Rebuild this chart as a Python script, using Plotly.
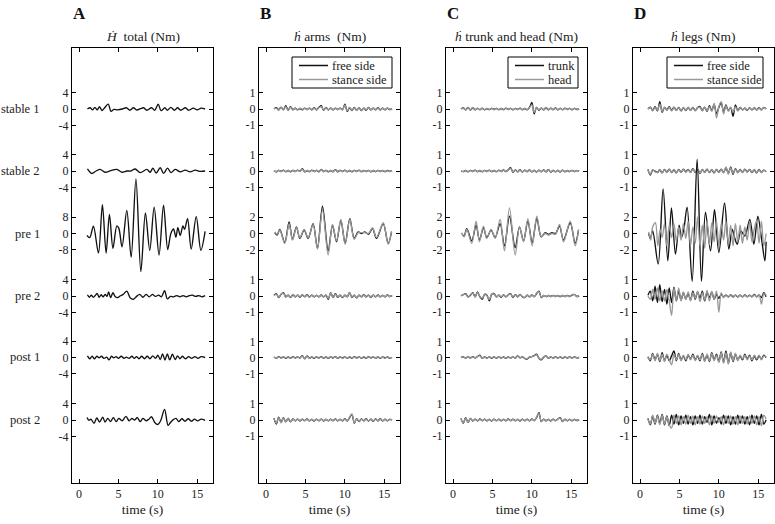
import plotly.graph_objects as go

W, H = 775, 524
ROW_NAMES = ["stable 1", "stable 2", "pre 1", "pre 2", "post 1", "post 2"]
PANEL_LETTERS = ["A", "B", "C", "D"]
PANEL_TITLES = ["<i>Ḣ</i>  total (Nm)", "<i>ḣ</i> arms  (Nm)", "<i>ḣ</i> trunk and head (Nm)", "<i>ḣ</i> legs (Nm)"]
LEGEND_NAMES = [None, ("free side", "stance side"), ("trunk", "head"), ("free side", "stance side")]
X_TICKS = [0, 5, 10, 15]
Y_TICKS_A = [[4, 0, -4], [4, 0, -4], [8, 0, -8], [4, 0, -4], [4, 0, -4], [4, 0, -4]]
Y_TICKS_BCD = [[1, 0, -1], [1, 0, -1], [2, 0, -2], [1, 0, -1], [1, 0, -1], [1, 0, -1]]

# ---------- Panel A : H total (Nm) ----------
A_stable1_t = [1.06, 1.4, 1.7, 2.0, 2.3, 2.6, 2.9, 3.2, 3.7, 4.05, 4.4, 4.9, 5.5, 6.0, 6.45, 6.9, 7.35, 7.8, 8.2, 8.6, 9.2, 9.6, 10.05, 10.4, 10.9, 11.2, 11.65, 12.1, 12.5, 12.9, 13.5, 13.9, 14.5, 15.0, 15.5, 16.0]
A_stable1_v = [0.0, 0.3, -0.2, 0.4, -0.2, 0.6, -0.4, 0.2, 1.2, -0.6, -0.1, -0.2, 0.0, 0.3, -0.3, 0.3, -0.25, 0.1, 0.3, -0.3, 0.3, -0.3, 1.2, -0.4, 0.3, -0.3, 0.4, -0.3, 0.3, -0.3, 0.3, -0.3, 0.2, -0.2, 0.2, 0.0]
A_stable2_t = [1.06, 1.61, 2.16, 2.67, 3.31, 4.03, 4.79, 5.43, 6.06, 6.57, 7.12, 7.76, 8.6, 9.03, 9.37, 9.79, 10.3, 10.72, 11.23, 11.66, 12.2, 12.84, 13.48, 14.1, 14.75, 15.38, 16.0]
A_stable2_v = [0.5, -0.6, 0.0, 0.4, -0.3, 0.1, 0.4, -0.3, 0.0, 0.0, 0.5, -0.4, 0.4, -0.3, 0.7, -0.5, 0.8, -0.6, 0.7, -0.4, 0.4, -0.2, 0.2, -0.2, 0.2, -0.1, 0.0]
A_pre1_t = [1.0, 1.35, 1.82, 2.46, 2.96, 3.43, 3.85, 4.3, 4.79, 5.05, 5.45, 6.06, 6.61, 7.22, 7.84, 8.42, 8.97, 9.53, 10.15, 10.72, 11.25, 11.65, 11.99, 12.29, 12.54, 12.84, 13.18, 13.39, 13.77, 14.23, 14.87, 15.46, 16.0]
A_pre1_v = [-1.0, -2.0, 3.5, -9.5, 14.0, -9.5, 9.3, -7.2, 3.7, 2.5, -6.5, 11.2, -11.5, 26.5, -18.5, 10.0, -8.2, 12.8, -10.5, 13.8, -7.8, 0.0, 2.2, -1.8, 2.8, -1.0, 3.7, 2.0, 7.2, -7.6, 8.2, -8.2, 1.0]
A_pre2_t = [1.06, 1.3, 1.55, 1.8, 2.05, 2.3, 2.55, 2.8, 3.05, 3.3, 3.55, 3.75, 4.0, 4.3, 4.6, 4.9, 5.2, 5.6, 6.06, 6.5, 6.9, 7.3, 7.7, 8.1, 8.5, 8.9, 9.3, 9.7, 10.1, 10.45, 10.85, 11.2, 11.6, 12.0, 12.4, 12.8, 13.2, 13.6, 14.0, 14.4, 14.8, 15.2, 15.6, 16.0]
A_pre2_v = [0.3, -0.3, 0.2, -0.3, 0.1, 0.6, -0.3, 0.3, -0.2, 0.4, -0.1, 1.0, -0.4, 0.8, -0.2, -0.4, 0.0, 0.4, 1.2, -0.5, -0.8, -0.1, 0.4, -0.3, 0.4, -0.2, 0.4, -0.1, 0.2, -0.2, 1.3, -0.7, -0.1, -0.2, 0.1, -0.2, 0.1, -0.2, 0.1, 0.2, -0.1, 0.1, -0.2, 0.1]
A_post1_t = [1.06, 1.35, 1.65, 1.95, 2.25, 2.55, 2.85, 3.15, 3.5, 3.8, 4.1, 4.4, 4.7, 5.0, 5.35, 5.7, 6.0, 6.35, 6.7, 7.0, 7.3, 7.6, 7.95, 8.3, 8.65, 9.0, 9.35, 9.7, 10.0, 10.3, 10.6, 10.9, 11.2, 11.5, 11.85, 12.2, 12.5, 12.8, 13.1, 13.5, 13.9, 14.3, 14.7, 15.1, 15.5, 16.0]
A_post1_v = [0.4, -0.3, 0.3, -0.3, 0.3, -0.1, 0.3, -0.2, 0.1, -0.6, 0.3, -0.1, 0.2, -0.2, 0.3, -0.2, 0.1, -0.2, 0.3, -0.2, 0.2, -0.3, 0.3, -0.3, 0.3, -0.3, 0.4, -0.2, 0.6, -0.5, 0.9, -0.6, 0.9, -0.6, 0.8, -0.5, 0.4, -0.3, 0.3, -0.3, 0.2, -0.2, 0.2, -0.2, 0.2, 0.0]
A_post2_t = [1.0, 1.25, 1.5, 1.9, 2.25, 2.6, 3.0, 3.3, 3.65, 4.0, 4.35, 4.7, 5.05, 5.45, 5.95, 6.35, 6.7, 7.05, 7.4, 7.75, 8.1, 8.5, 8.85, 9.2, 9.6, 10.0, 10.35, 10.85, 11.3, 11.6, 11.9, 12.3, 12.65, 13.05, 13.45, 13.85, 14.25, 14.65, 15.05, 15.5, 16.0]
A_post2_v = [0.6, -0.1, 0.2, -0.8, 0.5, -0.5, 0.7, -0.5, 0.4, -0.4, 0.6, -0.4, 0.4, -0.2, 0.9, -0.2, 0.4, 0.0, 0.6, -0.4, 0.4, -0.2, 0.2, 0.8, -0.6, -1.1, -0.2, 2.6, -1.3, -0.6, 0.0, 0.4, -0.4, 0.3, -0.3, 0.3, -0.3, 0.2, -0.2, 0.2, -0.1]

# ---------- common time grid for the small signals of panels B-D ----------
T_GRID = [1.0, 1.3, 1.6, 1.9, 2.2, 2.5, 2.8, 3.1, 3.4, 3.7, 4.0, 4.3, 4.6, 4.9, 5.2, 5.5, 5.8, 6.1, 6.4, 6.7,
          7.0, 7.3, 7.6, 7.9, 8.2, 8.5, 8.8, 9.1, 9.4, 9.7, 10.0, 10.3, 10.6, 10.9, 11.2, 11.5, 11.8, 12.1, 12.4, 12.7,
          13.0, 13.3, 13.6, 13.9, 14.2, 14.5, 14.8, 15.1, 15.4, 15.7, 16.0]
PRE1_T = [1.1, 1.4, 1.74, 2.37, 2.92, 3.35, 3.85, 4.28, 4.83, 5.34, 5.97, 6.52, 7.16, 7.88, 8.43, 8.94, 9.49, 10.04, 10.63, 11.18, 11.69, 12.1, 12.54, 13.0, 13.51, 14.02, 14.87, 15.5, 15.93]

# ---------- Panel B : h arms ----------
B_stable1_free = [0.00, 0.08, -0.05, 0.12, -0.05, 0.20, -0.08, 0.15, -0.05, 0.05,
                  -0.05, 0.03, -0.05, 0.05, -0.03, 0.05, -0.05, 0.08, -0.05, 0.10,
                  0.20, -0.08, 0.10, -0.05, 0.05, -0.05, 0.05, -0.03, 0.05, -0.05,
                  0.30, -0.15, 0.08, -0.10, 0.10, -0.08, 0.08, -0.10, 0.05, -0.08,
                  0.10, -0.05, 0.05, -0.05, 0.08, -0.05, 0.05, -0.05, 0.05, -0.03, 0.00]
B_stable1_stance = [0.02, 0.05, -0.08, 0.10, -0.03, 0.15, -0.10, 0.12, -0.03, 0.03,
                    -0.06, 0.05, -0.03, 0.04, -0.05, 0.06, -0.03, 0.06, -0.06, 0.08,
                    0.15, -0.06, 0.08, -0.06, 0.06, -0.04, 0.04, -0.05, 0.06, -0.03,
                    0.25, -0.12, 0.10, -0.08, 0.08, -0.10, 0.10, -0.08, 0.06, -0.06,
                    0.08, -0.06, 0.06, -0.04, 0.06, -0.06, 0.04, -0.04, 0.06, -0.02, 0.00]
B_stable2_free = [0.02, -0.05, 0.04, -0.03, 0.05, -0.04, 0.03, -0.05, 0.04, -0.03,
                  0.05, -0.02, 0.15, -0.05, 0.03, -0.04, 0.05, -0.03, 0.04, -0.05,
                  0.10, -0.03, 0.04, -0.05, 0.03, -0.04, 0.08, -0.05, 0.04, -0.03,
                  0.05, -0.04, 0.03, -0.05, 0.04, -0.03, 0.05, -0.04, 0.03, -0.03,
                  0.04, -0.05, 0.03, -0.04, 0.04, -0.03, 0.03, -0.04, 0.03, -0.02, 0.00]
B_stable2_stance = [0.00, -0.03, 0.05, -0.04, 0.04, -0.05, 0.04, -0.03, 0.05, -0.04,
                    0.04, -0.03, 0.12, -0.06, 0.04, -0.03, 0.04, -0.04, 0.05, -0.03,
                    0.08, -0.05, 0.05, -0.03, 0.04, -0.05, 0.06, -0.03, 0.05, -0.04,
                    0.04, -0.05, 0.04, -0.03, 0.05, -0.04, 0.04, -0.03, 0.04, -0.04,
                    0.03, -0.04, 0.04, -0.03, 0.03, -0.04, 0.04, -0.03, 0.02, -0.03, 0.00]
B_pre1_free = [0.1, -0.2, 0.5, -1.1, 1.4, -0.7, 0.8, -0.6, 0.4, -0.6, 1.2, -1.8, 3.3, -2.1, 1.0, -1.0, 1.6, -1.2, 1.8, -0.6, 0.2, 0.0, 0.2, -0.1, 0.6, -0.6, 1.2, -1.2, 0.2]
B_pre1_stance = [0.2, -0.1, 0.4, -1.2, 1.2, -0.8, 0.7, -0.5, 0.5, -0.5, 1.1, -1.9, 2.9, -2.6, 1.1, -0.9, 1.7, -1.3, 1.7, -0.7, 0.1, 0.1, 0.1, 0.0, 0.7, -0.5, 1.3, -1.3, 0.3]
B_pre2_free = [0.05, 0.15, -0.10, 0.10, 0.20, -0.05, 0.05, -0.10, 0.08, -0.05,
               0.05, -0.08, 0.06, -0.05, 0.08, -0.06, 0.05, -0.05, 0.04, -0.05,
               0.06, -0.05, 0.05, -0.20, 0.20, -0.10, 0.15, -0.08, 0.05, -0.10,
               0.05, -0.05, 0.20, -0.10, 0.05, -0.12, 0.05, -0.05, 0.08, -0.05,
               0.05, -0.08, 0.05, -0.05, 0.06, -0.05, 0.04, -0.05, 0.06, -0.03, 0.02]
B_pre2_stance = [0.03, 0.12, -0.08, 0.12, 0.18, -0.08, 0.06, -0.08, 0.10, -0.04,
                 0.06, -0.06, 0.08, -0.04, 0.06, -0.08, 0.06, -0.04, 0.05, -0.06,
                 0.05, -0.04, 0.06, -0.15, 0.18, -0.08, 0.12, -0.06, 0.06, -0.08,
                 0.06, -0.04, 0.22, -0.08, 0.06, -0.10, 0.06, -0.04, 0.06, -0.06,
                 0.04, -0.06, 0.06, -0.04, 0.05, -0.06, 0.05, -0.04, 0.05, -0.04, 0.03]
B_post1_free = [0.03, -0.04, 0.05, -0.03, 0.04, -0.05, 0.03, -0.04, 0.05, -0.03,
                0.04, -0.03, 0.12, -0.08, 0.10, -0.04, 0.03, -0.05, 0.04, -0.03,
                0.05, -0.04, 0.03, -0.05, 0.04, -0.03, 0.05, -0.04, 0.03, -0.03,
                0.04, -0.05, 0.03, -0.04, 0.05, -0.03, 0.04, -0.05, 0.03, -0.04,
                0.05, -0.03, 0.04, -0.04, 0.03, -0.05, 0.04, -0.03, 0.03, -0.04, 0.00]
B_post1_stance = [0.02, -0.03, 0.04, -0.04, 0.05, -0.03, 0.04, -0.05, 0.03, -0.04,
                  0.05, -0.04, 0.10, -0.06, 0.08, -0.05, 0.04, -0.03, 0.05, -0.04,
                  0.04, -0.05, 0.04, -0.03, 0.05, -0.04, 0.04, -0.03, 0.04, -0.05,
                  0.03, -0.04, 0.05, -0.03, 0.04, -0.05, 0.03, -0.04, 0.05, -0.03,
                  0.04, -0.04, 0.05, -0.03, 0.04, -0.04, 0.03, -0.05, 0.04, -0.03, 0.01]
B_post2_free = [0.12, -0.25, 0.18, -0.15, 0.15, -0.12, 0.10, -0.12, 0.06, -0.05,
                0.05, -0.06, 0.05, -0.04, 0.06, -0.05, 0.04, -0.06, 0.05, -0.04,
                0.05, -0.06, 0.04, -0.05, 0.05, -0.04, 0.06, -0.05, 0.04, -0.05,
                0.08, -0.06, 0.15, 0.35, -0.20, 0.08, -0.10, 0.06, -0.05, 0.08,
                -0.06, 0.05, -0.08, 0.06, -0.05, 0.08, -0.06, 0.05, -0.05, 0.04, 0.00]
B_post2_stance = [0.10, -0.20, 0.15, -0.18, 0.12, -0.10, 0.12, -0.10, 0.05, -0.06,
                  0.06, -0.05, 0.04, -0.05, 0.05, -0.06, 0.05, -0.05, 0.04, -0.05,
                  0.06, -0.05, 0.05, -0.04, 0.04, -0.05, 0.05, -0.04, 0.05, -0.04,
                  0.06, -0.05, 0.18, 0.38, -0.18, 0.06, -0.08, 0.05, -0.06, 0.06,
                  -0.05, 0.06, -0.06, 0.05, -0.06, 0.06, -0.05, 0.04, -0.04, 0.05, 0.00]

# ---------- Panel C : h trunk and head ----------
C_stable1_trunk = [0.00, 0.06, -0.05, 0.10, -0.06, 0.08, -0.05, 0.04, -0.04, 0.05,
                   -0.05, 0.03, -0.04, 0.04, -0.03, 0.04, -0.04, 0.03, -0.04, 0.05,
                   -0.03, 0.04, -0.05, 0.04, -0.03, 0.05, -0.04, 0.03, -0.05, 0.10,
                   0.40, -0.30, 0.10, -0.08, 0.05, -0.05, 0.08, -0.05, 0.05, -0.04,
                   0.06, -0.05, 0.04, -0.04, 0.05, -0.03, 0.04, -0.05, 0.04, -0.03, 0.00]
C_stable1_head = [0.02, 0.05, -0.06, 0.08, -0.05, 0.10, -0.04, 0.05, -0.05, 0.04,
                  -0.04, 0.04, -0.03, 0.05, -0.04, 0.03, -0.05, 0.04, -0.03, 0.04,
                  -0.04, 0.05, -0.04, 0.03, -0.04, 0.04, -0.05, 0.04, -0.04, 0.08,
                  0.25, -0.20, 0.08, -0.06, 0.06, -0.04, 0.10, -0.04, 0.06, -0.05,
                  0.05, -0.04, 0.05, -0.05, 0.04, -0.04, 0.05, -0.04, 0.05, -0.02, 0.00]
C_stable2_trunk = [0.00, -0.04, 0.03, -0.05, 0.04, -0.03, 0.05, -0.04, 0.03, -0.05,
                   0.04, -0.03, 0.05, -0.04, 0.03, -0.04, 0.05, -0.03, 0.06, -0.04,
                   0.08, 0.20, -0.08, 0.06, -0.05, 0.08, -0.06, 0.05, -0.04, 0.06,
                   -0.05, 0.04, -0.06, 0.05, -0.04, 0.06, -0.05, 0.08, -0.06, 0.04,
                   -0.05, 0.04, -0.06, 0.05, -0.04, 0.03, -0.04, 0.04, -0.03, 0.02, 0.00]
C_stable2_head = [0.01, -0.03, 0.04, -0.04, 0.03, -0.04, 0.04, -0.03, 0.04, -0.04,
                  0.03, -0.04, 0.04, -0.03, 0.04, -0.05, 0.04, -0.04, 0.05, -0.03,
                  0.06, 0.16, -0.06, 0.05, -0.06, 0.06, -0.05, 0.06, -0.05, 0.05,
                  -0.04, 0.05, -0.05, 0.04, -0.05, 0.05, -0.04, 0.06, -0.05, 0.05,
                  -0.04, 0.05, -0.05, 0.04, -0.05, 0.04, -0.03, 0.03, -0.04, 0.03, 0.00]
C_pre1_trunk = [0.0, -0.3, 0.6, -0.9, 1.0, -0.8, 0.7, -0.5, 0.4, -0.5, 1.2, -1.5, 2.1, -1.7, 0.8, -0.9, 1.5, -1.1, 1.8, -0.4, 0.1, -0.1, 0.1, 0.0, 0.9, -0.8, 1.3, -1.2, 0.4]
C_pre1_head = [0.1, -0.4, 0.5, -1.2, 1.5, -1.0, 0.9, -0.6, 0.5, -0.6, 1.7, -2.1, 3.1, -2.6, 0.8, -1.0, 1.8, -1.5, 2.1, -0.4, 0.0, -0.2, 0.0, -0.1, 1.1, -1.0, 1.5, -1.5, 0.5]
C_pre2_trunk = [0.02, 0.08, 0.15, -0.05, 0.05, 0.20, -0.05, 0.25, -0.05, -0.20,
                0.10, 0.05, -0.30, 0.10, 0.15, -0.05, 0.05, -0.08, 0.06, -0.05,
                0.08, 0.15, -0.10, 0.08, -0.05, 0.10, -0.05, -0.10, 0.05, -0.05,
                0.06, -0.04, 0.15, 0.30, -0.10, 0.03, -0.04, 0.03, -0.03, 0.04,
                -0.03, 0.03, -0.04, 0.03, -0.03, 0.04, -0.03, 0.06, 0.10, -0.03, 0.00]
C_pre2_head = [0.00, 0.10, 0.12, -0.08, 0.08, 0.18, -0.08, 0.22, -0.02, -0.15,
               0.12, 0.02, -0.22, 0.12, 0.12, -0.06, 0.06, -0.05, 0.05, -0.06,
               0.06, 0.12, -0.08, 0.06, -0.06, 0.08, -0.06, -0.08, 0.06, -0.04,
               0.05, -0.05, 0.18, 0.26, -0.08, 0.04, -0.03, 0.04, -0.04, 0.03,
               -0.04, 0.04, -0.03, 0.04, -0.04, 0.03, -0.04, 0.08, 0.08, -0.02, 0.01]
C_post1_trunk = [0.00, 0.03, -0.03, 0.04, -0.03, 0.05, -0.03, 0.06, 0.15, -0.05,
                 0.04, -0.03, 0.03, -0.04, 0.03, -0.03, 0.04, -0.03, 0.03, -0.04,
                 0.03, -0.03, 0.04, -0.03, 0.10, -0.02, 0.03, -0.06, -0.10, 0.02,
                 0.06, 0.12, 0.20, -0.05, -0.15, 0.02, 0.10, -0.04, 0.03, -0.03,
                 0.04, -0.03, 0.03, -0.04, 0.03, -0.03, 0.04, -0.03, 0.03, -0.02, 0.00]
C_post1_head = [0.01, 0.02, -0.04, 0.03, -0.04, 0.04, -0.02, 0.05, 0.12, -0.04,
                0.03, -0.04, 0.04, -0.03, 0.04, -0.04, 0.03, -0.04, 0.04, -0.03,
                0.04, -0.04, 0.03, -0.04, 0.08, -0.03, 0.04, -0.05, -0.08, 0.03,
                0.05, 0.10, 0.17, -0.04, -0.12, 0.03, 0.08, -0.03, 0.04, -0.04,
                0.03, -0.04, 0.04, -0.03, 0.04, -0.04, 0.03, -0.04, 0.04, -0.03, 0.01]
C_post2_trunk = [0.10, -0.20, 0.15, -0.15, 0.10, -0.06, 0.05, -0.05, 0.06, -0.04,
                 0.05, -0.05, 0.04, -0.06, 0.05, -0.04, 0.05, -0.05, 0.04, -0.05,
                 0.06, -0.04, 0.05, -0.05, 0.04, -0.06, 0.05, -0.04, 0.05, -0.05,
                 0.06, -0.04, 0.15, 0.45, -0.10, 0.05, -0.05, 0.04, -0.06, 0.05,
                 -0.04, 0.06, 0.15, -0.10, 0.05, -0.05, 0.04, -0.05, 0.04, -0.03, 0.00]
C_post2_head = [0.08, -0.18, 0.12, -0.12, 0.08, -0.05, 0.06, -0.04, 0.05, -0.05,
                0.04, -0.06, 0.05, -0.05, 0.04, -0.05, 0.04, -0.06, 0.05, -0.04,
                0.05, -0.05, 0.04, -0.04, 0.05, -0.05, 0.04, -0.05, 0.04, -0.04,
                0.05, -0.05, 0.18, 0.40, -0.08, 0.04, -0.06, 0.05, -0.05, 0.04,
                -0.05, 0.05, 0.13, -0.08, 0.04, -0.04, 0.05, -0.04, 0.05, -0.02, 0.01]

# ---------- Panel D : h legs ----------
D_stable1_free = [0.00, 0.12, -0.10, 0.15, -0.12, 0.45, -0.20, 0.10, -0.05, 0.15,
                  -0.10, 0.12, -0.08, 0.10, -0.12, 0.08, -0.10, 0.10, -0.08, 0.10,
                  -0.10, 0.08, 0.15, -0.10, 0.12, -0.15, 0.20, -0.10, 0.30, -0.30,
                  0.10, 0.40, -0.20, 0.25, -0.10, 0.10, -0.45, 0.25, -0.10, 0.10,
                  -0.05, 0.05, -0.08, 0.06, -0.05, 0.06, -0.05, 0.08, -0.05, 0.10, 0.00]
D_stable1_stance = [0.02, 0.08, -0.12, 0.10, -0.08, 0.30, -0.15, 0.12, -0.08, 0.10,
                    -0.12, 0.10, -0.10, 0.08, -0.10, 0.10, -0.08, 0.12, -0.10, 0.08,
                    -0.12, 0.10, 0.10, -0.12, 0.10, -0.12, 0.15, -0.15, 0.35, -0.55,
                    0.15, 0.45, -0.30, 0.20, -0.15, 0.12, -0.20, 0.15, -0.12, 0.08,
                    -0.06, 0.06, -0.06, 0.05, -0.06, 0.05, -0.06, 0.06, -0.06, 0.08, 0.02]
D_stable2_free = [0.10, -0.25, 0.05, 0.00, -0.10, 0.08, -0.12, 0.10, -0.08, 0.12,
                  -0.10, 0.08, -0.12, 0.10, -0.08, 0.12, -0.05, 0.10, -0.08, 0.15,
                  -0.10, 0.12, -0.15, 0.10, -0.08, 0.12, -0.10, 0.08, -0.12, 0.10,
                  -0.08, 0.12, -0.10, 0.20, -0.15, 0.25, -0.20, 0.15, -0.10, 0.10,
                  -0.08, 0.12, -0.05, 0.10, -0.10, 0.08, -0.12, 0.10, -0.08, 0.05, -0.05]
D_stable2_stance = [0.05, -0.20, 0.08, -0.05, -0.08, 0.10, -0.10, 0.08, -0.10, 0.10,
                    -0.08, 0.10, -0.10, 0.08, -0.10, 0.10, -0.08, 0.08, -0.10, 0.12,
                    -0.08, 0.10, -0.12, 0.08, -0.10, 0.10, -0.08, 0.10, -0.10, 0.08,
                    -0.10, 0.10, -0.12, 0.25, -0.20, 0.20, -0.15, 0.12, -0.12, 0.08,
                    -0.10, 0.10, -0.08, 0.08, -0.08, 0.10, -0.10, 0.08, -0.10, 0.06, -0.03]
D_pre1_free_t = [1.1, 1.3, 1.6, 2.3, 2.92, 3.52, 3.98, 4.49, 4.95, 5.25, 5.55, 5.97, 6.61, 7.24, 7.79, 8.3, 8.94, 9.45, 10.0, 10.72, 11.27, 11.7, 12.0, 12.33, 12.8, 13.3, 13.93, 14.44, 14.95, 15.4, 15.84, 16.0]
D_pre1_free = [0.0, -0.6, 0.3, -3.7, 5.4, -3.3, 3.1, -2.5, 1.0, -0.5, 0.5, 3.2, -5.8, 9.0, -5.8, 2.6, -2.1, 2.9, -2.3, 3.7, -1.9, 0.5, -0.5, -1.3, 0.3, -0.3, 1.7, -1.3, 2.1, -0.5, -3.3, -1.0]
D_pre1_stance_t = [1.1, 1.35, 1.6, 1.95, 2.25, 2.55, 2.8, 3.1, 3.4, 3.7, 4.0, 4.3, 4.6, 4.9, 5.2, 5.5, 5.8, 6.1, 6.4, 6.7, 7.0, 7.3, 7.6, 7.9, 8.2, 8.5, 8.8, 9.1, 9.4, 9.7, 10.0, 10.3, 10.6, 10.9, 11.2, 11.5, 11.8, 12.1, 12.4, 12.7, 13.0, 13.3, 13.6, 13.9, 14.2, 14.5, 14.8, 15.1, 15.4, 15.7, 16.0]
D_pre1_stance = [0.2, -0.8, 0.8, 1.3, -1.5, 0.5, -0.5, 1.2, -1.5, 1.0, -0.5, 1.2, -1.0, 0.8, -0.8, 1.2, -0.6, 1.5, -1.5, 0.8, -1.2, 2.0, -1.5, 1.0, -1.8, 1.6, -1.4, 1.3, -1.0, 1.5, -1.6, 1.2, -0.8, 1.5, -1.2, 1.0, -1.5, 1.2, -1.0, 1.0, -1.2, 0.8, -0.8, 1.5, -1.0, 0.6, 1.6, -1.2, 1.5, -1.5, 0.0]
D_pre2_free = [0.05, 0.30, -0.30, 0.60, -0.40, 0.70, -0.35, 0.40, -0.50, 0.50,
               -0.40, 0.55, -0.30, 0.30, -0.25, 0.20, -0.20, 0.15, -0.25, 0.30,
               -0.20, 0.25, -0.15, 0.30, -0.30, 0.20, -0.10, 0.25, -0.20, 0.10,
               -0.15, 0.10, -0.05, 0.05, -0.05, 0.06, -0.04, 0.05, -0.06, 0.05,
               -0.05, 0.06, -0.04, 0.05, -0.05, 0.10, -0.05, 0.05, -0.10, 0.20, -0.05]
D_pre2_stance = [0.00, -0.20, 0.40, -0.20, 0.50, -0.30, 0.30, -0.30, 0.40, -0.30,
                 -1.20, 0.50, -0.30, 0.50, -0.30, 0.25, -0.20, 0.25, -0.30, 0.20,
                 -0.15, 0.30, -0.35, 0.20, -0.25, 0.35, -0.30, 0.25, -0.20, 0.30,
                 -1.00, 0.20, -0.10, 0.08, -0.06, 0.05, -0.08, 0.06, -0.05, 0.06,
                 -0.04, 0.05, -0.06, 0.04, -0.05, 0.06, -0.05, 0.10, -0.50, 0.15, 0.05]
D_post1_free = [0.05, -0.20, 0.25, -0.15, 0.20, -0.25, 0.30, -0.20, 0.15, -0.20,
                0.10, 0.40, -0.20, 0.25, -0.15, 0.10, -0.20, 0.15, -0.10, 0.20,
                -0.15, 0.10, -0.20, 0.25, -0.20, 0.15, -0.25, 0.30, -0.15, 0.20,
                -0.25, 0.35, -0.30, 0.40, -0.35, 0.30, -0.25, 0.20, -0.15, 0.10,
                -0.15, 0.20, -0.10, 0.15, -0.20, 0.10, -0.15, 0.10, -0.10, 0.15, 0.00]
D_post1_stance = [0.00, -0.15, 0.20, -0.20, 0.25, -0.20, 0.20, -0.25, 0.20, -0.15,
                  -0.45, 0.20, -0.15, 0.20, -0.20, 0.15, -0.15, 0.20, -0.15, 0.15,
                  -0.20, 0.15, -0.15, 0.20, -0.25, 0.20, -0.20, 0.25, -0.20, 0.15,
                  -0.30, 0.30, -0.35, 0.30, -0.40, 0.35, -0.20, 0.25, -0.20, 0.15,
                  -0.10, 0.15, -0.15, 0.10, -0.15, 0.15, -0.10, 0.15, -0.15, 0.10, 0.05]
D_post2_free = [0.10, -0.30, 0.25, -0.25, 0.30, -0.20, 0.35, -0.30, 0.25, -0.35,
                0.30, -0.25, 0.35, -0.30, 0.25, -0.20, 0.30, -0.25, 0.20, -0.30,
                0.25, -0.20, 0.30, -0.25, 0.20, -0.15, 0.35, -0.30, 0.25, -0.20,
                0.15, -0.25, 0.30, -0.20, 0.25, -0.30, 0.20, -0.25, 0.30, -0.20,
                0.25, -0.25, 0.20, -0.30, 0.30, -0.20, 0.25, -0.30, 0.35, -0.25, 0.00]
D_post2_stance = [0.05, -0.25, 0.30, -0.20, 0.25, -0.30, 0.30, -0.25, 0.20, -0.30,
                  -0.50, 0.30, -0.20, 0.25, -0.30, 0.20, -0.25, 0.30, -0.20, 0.25,
                  -0.30, 0.20, -0.25, 0.25, -0.20, 0.20, -0.30, 0.25, -0.20, 0.25,
                  -0.15, 0.20, -0.30, 0.25, -0.20, 0.25, -0.25, 0.20, -0.30, 0.25,
                  -0.20, 0.20, -0.25, 0.25, -0.20, 0.25, -0.30, 0.20, -0.35, 0.30, 0.05]

PANELS = [
    [[(A_stable1_t, A_stable1_v)], [(A_stable2_t, A_stable2_v)], [(A_pre1_t, A_pre1_v)],
     [(A_pre2_t, A_pre2_v)], [(A_post1_t, A_post1_v)], [(A_post2_t, A_post2_v)]],
    [[(T_GRID, B_stable1_free), (T_GRID, B_stable1_stance)], [(T_GRID, B_stable2_free), (T_GRID, B_stable2_stance)],
     [(PRE1_T, B_pre1_free), (PRE1_T, B_pre1_stance)], [(T_GRID, B_pre2_free), (T_GRID, B_pre2_stance)],
     [(T_GRID, B_post1_free), (T_GRID, B_post1_stance)], [(T_GRID, B_post2_free), (T_GRID, B_post2_stance)]],
    [[(T_GRID, C_stable1_trunk), (T_GRID, C_stable1_head)], [(T_GRID, C_stable2_trunk), (T_GRID, C_stable2_head)],
     [(PRE1_T, C_pre1_trunk), (PRE1_T, C_pre1_head)], [(T_GRID, C_pre2_trunk), (T_GRID, C_pre2_head)],
     [(T_GRID, C_post1_trunk), (T_GRID, C_post1_head)], [(T_GRID, C_post2_trunk), (T_GRID, C_post2_head)]],
    [[(T_GRID, D_stable1_free), (T_GRID, D_stable1_stance)], [(T_GRID, D_stable2_free), (T_GRID, D_stable2_stance)],
     [(D_pre1_free_t, D_pre1_free), (D_pre1_stance_t, D_pre1_stance)], [(T_GRID, D_pre2_free), (T_GRID, D_pre2_stance)],
     [(T_GRID, D_post1_free), (T_GRID, D_post1_stance)], [(T_GRID, D_post2_free), (T_GRID, D_post2_stance)]],
]

# ---------- layout geometry (pixels) ----------
PANEL_LEFT = [72, 259, 446, 633]
PANEL_W = 141
FRAME_TOP, FRAME_BOT = 48, 483
ROW_ZERO = [109, 171, 233.5, 296, 357.5, 420]
SCALE_A = [4.08, 4.08, 2.06, 4.08, 4.08, 4.08]
SCALE_BCD = [16.2, 16.2, 8.25, 16.2, 16.2, 16.2]
COLORS = ["#111111", "#999999"]
FONT = "Liberation Serif"
LEG_BOX = [None, (292, 392), (508, 578), (667, 763)]
LEG_TOP, LEG_BOT = 57, 88
LEG_ROWS = [65.5, 79.5]

fig = go.Figure()
ylen = FRAME_BOT - FRAME_TOP

def px(xp):
    return xp / W

def py(yp):
    return (H - yp) / H

for p in range(4):
    xa = "x" if p == 0 else f"x{p+1}"
    ya = "y" if p == 0 else f"y{p+1}"
    scales = SCALE_A if p == 0 else SCALE_BCD
    ticks = Y_TICKS_A if p == 0 else Y_TICKS_BCD
    tickvals, ticktext = [], []
    for r in range(6):
        center = FRAME_BOT - ROW_ZERO[r]
        for tv in ticks[r]:
            tickvals.append(center + tv * scales[r])
            ticktext.append(str(tv))
        for s, (tt, vv) in enumerate(PANELS[p][r]):
            yy = [center + v * scales[r] for v in vv]
            fig.add_trace(go.Scatter(
                x=tt, y=yy, mode="lines", xaxis=xa, yaxis=ya,
                line=dict(color=COLORS[s], width=1.35, shape="spline", smoothing=0.9),
                showlegend=False, hoverinfo="skip"))
    axis_common = dict(showline=True, mirror="ticks", linecolor="black", linewidth=1,
                       ticks="inside", ticklen=4, tickcolor="black", showgrid=False,
                       zeroline=False, tickfont=dict(family=FONT, size=12, color="#222"))
    fig.layout[("xaxis" if p == 0 else f"xaxis{p+1}")] = dict(
        domain=[px(PANEL_LEFT[p]), px(PANEL_LEFT[p] + PANEL_W)], anchor=ya, range=[-0.9, 17.0],
        tickvals=X_TICKS, ticktext=[str(v) for v in X_TICKS], automargin=False,
        title=dict(text="time (s)", font=dict(family=FONT, size=13.5, color="#222"), standoff=4),
        **axis_common)
    fig.layout[("yaxis" if p == 0 else f"yaxis{p+1}")] = dict(
        domain=[py(FRAME_BOT), py(FRAME_TOP)], anchor=xa,
        range=[0, ylen], tickvals=tickvals, ticktext=ticktext, automargin=False, **axis_common)
    fig.add_annotation(text=f"<b>{PANEL_LETTERS[p]}</b>", xref="paper", yref="paper",
                       x=px(PANEL_LEFT[p] - 1), y=py(13), xanchor="left", yanchor="middle",
                       showarrow=False, font=dict(family=FONT, size=17, color="#111"))
    fig.add_annotation(text=PANEL_TITLES[p], xref="paper", yref="paper",
                       x=px(PANEL_LEFT[p] + PANEL_W / 2), y=py(36), xanchor="center", yanchor="middle",
                       showarrow=False, font=dict(family=FONT, size=13.5, color="#222"))
    if LEGEND_NAMES[p]:
        lx0, lx1 = LEG_BOX[p]
        fig.add_shape(type="rect", xref="paper", yref="paper", x0=px(lx0), x1=px(lx1),
                      y0=py(LEG_BOT), y1=py(LEG_TOP), line=dict(color="black", width=1),
                      fillcolor="white", layer="above")
        for s, nm in enumerate(LEGEND_NAMES[p]):
            fig.add_shape(type="line", xref="paper", yref="paper", x0=px(lx0 + 7), x1=px(lx0 + 36),
                          y0=py(LEG_ROWS[s]), y1=py(LEG_ROWS[s]),
                          line=dict(color=COLORS[s], width=1.5), layer="above")
            fig.add_annotation(text=nm, xref="paper", yref="paper", x=px(lx0 + 38), y=py(LEG_ROWS[s]),
                               xanchor="left", yanchor="middle", showarrow=False,
                               font=dict(family=FONT, size=12.5, color="#222"))

for r, name in enumerate(ROW_NAMES):
    fig.add_annotation(text=name, xref="paper", yref="paper", x=px(42), y=py(ROW_ZERO[r]),
                       xanchor="right", yanchor="middle", showarrow=False,
                       font=dict(family=FONT, size=12.5, color="#222"))

fig.update_layout(width=W, height=H, margin=dict(l=0, r=0, t=0, b=0),
                  paper_bgcolor="white", plot_bgcolor="white", showlegend=False)

fig.write_html("out.html", config={"displayModeBar": False},
               post_script="document.body.style.margin='0';document.body.style.padding='0';")
